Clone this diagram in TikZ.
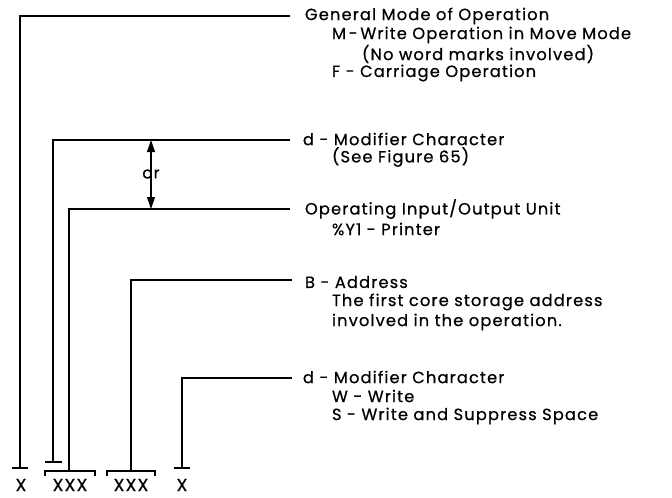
\documentclass[tikz,border=0pt]{standalone}
\usepackage{fontspec}
\setmainfont{Poppins}[LetterSpace=7,FakeBold=0.6]
\usetikzlibrary{arrows.meta}
\begin{document}
\begin{tikzpicture}[x=0.75pt,y=-0.75pt,
  every node/.style={inner sep=0pt,outer sep=0pt},
  txt/.style={anchor=west,font=\fontsize{12.2}{14}\selectfont},
  xl/.style={font=\fontsize{13}{15}\selectfont},
  ln/.style={line width=0.8pt,line join=miter},
  orarrow/.style={line width=0.8pt,-{Triangle[length=9pt,width=6pt]}}]
\useasboundingbox (0,0) rectangle (672,497);
% texts
\node[txt] (g1) at (305,16) {General Mode of Operation};
\node[txt] (g2) at (332,35) {M\,-\,Write Operation in Move Mode};
\node[txt] (g3) at (362,54) {(No word marks involved)};
\node[txt] (g4) at (332,73) {F - Carriage Operation};
\node[txt] (m1) at (303,139) {d - Modifier Character};
\node[txt] (m2) at (332,157) {(See Figure 65)};
\node[txt] (o1) at (305,209) {Operating Input/Output Unit};
\node[txt] (o2) at (332,229) {\%Y1 - Printer};
\node[txt] (b1) at (305,282) {B - Address};
\node[txt] (b2) at (332,302) {The first core storage address};
\node[txt] (b3) at (332,322) {involved in the operation.};
\node[txt] (d1) at (303,377) {d - Modifier Character};
\node[txt] (d2) at (332,396) {W - Write};
\node[txt] (d3) at (332,416) {S - Write and Suppress Space};
% bottom labels
\node[xl] (x1) at (21,485) {X};
\node[xl] (x2) at (70,485) {XXX};
\node[xl] (x3) at (131,485) {XXX};
\node[xl] (x4) at (182,485) {X};
% end coordinates
\coordinate (e1) at (290,16);
\coordinate (e2) at (290,140);
\coordinate (e3) at (290,209);
\coordinate (e4) at (292,280);
\coordinate (e5) at (292,378);
\coordinate (t1) at (20,468);
\coordinate (t2) at (53,462);
\coordinate (t3) at (69,471);
\coordinate (t4) at (131,471);
\coordinate (t5) at (182,468);
% leader lines
\draw[ln] (e1) -| (t1);
\draw[ln] (e2) -| (t2);
\draw[ln] (e3) -| (t3);
\draw[ln] (e4) -| (t4);
\draw[ln] (e5) -| (t5);
% ticks and brackets
\draw[ln] ([xshift=-6]t1) -- ([xshift=6]t1);
\draw[ln] ([xshift=-6]t2) -- ([xshift=7]t2);
\draw[ln] ([xshift=6]t5) -- ([xshift=-6]t5);
\draw[ln] (45,476) -- (45,471) -- (95,471) -- (95,476);
\draw[ln] (107,476) -- (107,471) -- (155,471) -- (155,476);
% or arrow
\node[font=\fontsize{12}{14}\selectfont] (or) at (151,174) {or};
\draw[orarrow] ([yshift=-4]or.north) -- (151,140);
\draw[orarrow] ([yshift=4]or.south) -- (151,209);
\end{tikzpicture}
\end{document}
